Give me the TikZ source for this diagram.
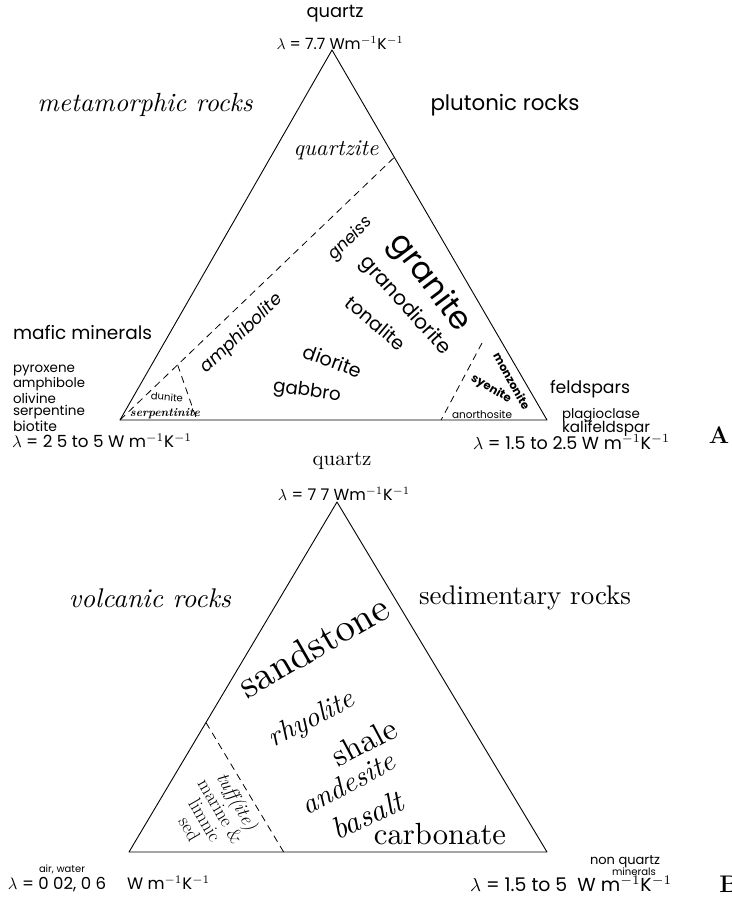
\documentclass[tikz,border=0pt]{standalone}
\usepackage{fontspec}
\usetikzlibrary{calc}
\newfontfamily\gs{Poppins}
\newcommand\fw[2]{\resizebox{#1pt}{!}{#2}}
\tikzset{
  lbl/.style={inner sep=0pt, outer sep=0pt},
  edgeline/.style={line width=0.9pt, line join=round},
  dsh/.style={line width=0.8pt, dash pattern=on 7pt off 5pt}
}
\begin{document}
\begin{tikzpicture}[x=1pt,y=-1pt]
\useasboundingbox (0,0) rectangle (731,901);
\clip (0,0) rectangle (731,901);
\fill[white] (0,0) rectangle (731,901);

% ---------------- Triangle A ----------------
\coordinate (apA) at (332,50);
\coordinate (blA) at (120,420);
\coordinate (brA) at (547,420);
\draw[edgeline] (apA) -- (brA) -- (blA) -- cycle;
\coordinate (dA1) at ($(apA)!0.29!(brA)$);
\draw[dsh] (blA) -- (dA1);
\coordinate (dA2) at ($(blA)!0.21!(dA1)$);
\coordinate (dA3) at ($(blA)!0.18!(brA)$);
\draw[dsh] (dA2) -- (dA3);
\coordinate (dA4) at (482,343);
\coordinate (dA5) at ($(blA)!0.752!(brA)$);
\draw[dsh] (dA4) -- (dA5);

\node[lbl] (qA) at (335,14) {\fw{57}{\gs quartz}};
\node[lbl] (lamA) at (340,43) {\fw{127}{\gs $\lambda$ = 7.7 Wm$^{-1}$K$^{-1}$}};
\node[lbl] (meta) at (145,105) {\fw{215}{\itshape metamorphic rocks}};
\node[lbl] (pluto) at (505,105) {\fw{149}{\gs plutonic rocks}};
\node[lbl] (qzite) at (336,150) {\fw{85}{\itshape quartzite}};
\node[lbl, rotate=45] (gneiss) at (351,239) {\fw{54}{\gs\itshape gneiss}};
\node[lbl, rotate=-53] (granite) at (429,283) {\fw{114}{\gs granite}};
\node[lbl, rotate=-48] (grano) at (405,306) {\fw{125}{\gs granodiorite}};
\node[lbl, rotate=-40] (tonal) at (376,323) {\fw{72}{\gs tonalite}};
\node[lbl, rotate=-20] (dior) at (333,361) {\fw{61}{\gs diorite}};
\node[lbl, rotate=-8] (gabb) at (307,392) {\fw{68}{\gs gabbro}};
\node[lbl, rotate=44] (amph) at (242,334) {\fw{106}{\gs\itshape amphibolite}};
\node[lbl, rotate=-5] (dunite) at (167,397) {\fw{32}{\gs dunite}};
\node[lbl] (serp) at (165,414) {\fw{70}{\bfseries\itshape serpentinite}};
\node[lbl, rotate=-61] (monz) at (512,381) {\fw{63}{\gs\bfseries monzonite}};
\node[lbl, rotate=-30] (syen) at (491,389) {\fw{44}{\gs\bfseries syenite}};
\node[lbl] (anor) at (482,415) {\fw{60}{\gs anorthosite}};

\node[lbl, anchor=west] (mafic) at (13,333) {\fw{139}{\gs mafic minerals}};
\node[lbl, anchor=west] (pyro) at (13,370) {\fw{62}{\gs pyroxene}};
\node[lbl, anchor=west] (amphi) at (13,384) {\fw{72}{\gs amphibole}};
\node[lbl, anchor=west] (oliv) at (13,398) {\fw{43}{\gs olivine}};
\node[lbl, anchor=west] (serpt) at (13,412) {\fw{72}{\gs serpentine}};
\node[lbl, anchor=west] (bioti) at (13,426) {\fw{44}{\gs biotite}};
\node[lbl, anchor=west] (lamAL) at (12,441) {\fw{180}{\gs $\lambda$ = 2 5 to 5 W m$^{-1}$K$^{-1}$}};

\node[lbl] (feld) at (590,389) {\fw{80}{\gs feldspars}};
\node[lbl, anchor=west] (plag) at (562,415) {\fw{78}{\gs plagioclase}};
\node[lbl, anchor=west] (kali) at (562,429) {\fw{88}{\gs kalifeldspar}};
\node[lbl, anchor=west] (lamAR) at (473,442) {\fw{197}{\gs $\lambda$ = 1.5 to 2.5 W m$^{-1}$K$^{-1}$}};
\node[lbl] (labA) at (719,435) {\fontsize{24}{24}\selectfont\bfseries A};

% ---------------- Triangle B ----------------
\coordinate (apB) at (337,502);
\coordinate (blB) at (129,852);
\coordinate (brB) at (547,852);
\draw[edgeline] (apB) -- (brB) -- (blB) -- cycle;
\coordinate (dB1) at ($(apB)!0.63!(blB)$);
\coordinate (dB2) at ($(blB)!0.37!(brB)$);
\draw[dsh] (dB1) -- (dB2);

\node[lbl] (qB) at (342,461) {\fw{59}{quartz}};
\node[lbl] (lamB) at (344,494) {\fw{132}{\gs $\lambda$ = 7 7 Wm$^{-1}$K$^{-1}$}};
\node[lbl] (volc) at (150,598) {\fw{162}{\itshape volcanic rocks}};
\node[lbl] (sedi) at (525,598) {\fw{212}{sedimentary rocks}};
\node[lbl, rotate=30] (sand) at (313,646) {\fw{167}{sandstone}};
\node[lbl, rotate=27] (rhyo) at (312,720) {\fw{93}{\itshape rhyolite}};
\node[lbl, rotate=28] (shale) at (364,742) {\fw{69}{shale}};
\node[lbl, rotate=28] (ande) at (348,783) {\fw{102}{\itshape andesite}};
\node[lbl, rotate=25] (basa) at (367,815) {\fw{75}{\itshape basalt}};
\node[lbl] (carb) at (440,834) {\fw{132}{carbonate}};
\node[lbl, rotate=-60, align=center, font=\fontsize{19}{18}\selectfont] (tuff) at (214,815)
  {{\itshape tuff(ite)}\\marine \&\\limnic\\sed};

\node[lbl] (air) at (62,869) {\fw{46}{\gs air, water}};
\node[lbl, anchor=west] (lamBL) at (8,884) {\fw{202}{\gs $\lambda$ = 0 02, 0 6 \quad W m$^{-1}$K$^{-1}$}};
\node[lbl, anchor=east] (nonq) at (660,862) {\fw{70}{\gs non quartz}};
\node[lbl, anchor=east] (mine) at (656,872) {\fw{44}{\gs minerals}};
\node[lbl, anchor=west] (lamBR) at (470,884) {\fw{202}{\gs $\lambda$ = 1.5 to 5 \ W m$^{-1}$K$^{-1}$}};
\node[lbl] (labB) at (729,884) {\fontsize{24}{24}\selectfont\bfseries B};
\end{tikzpicture}
\end{document}
